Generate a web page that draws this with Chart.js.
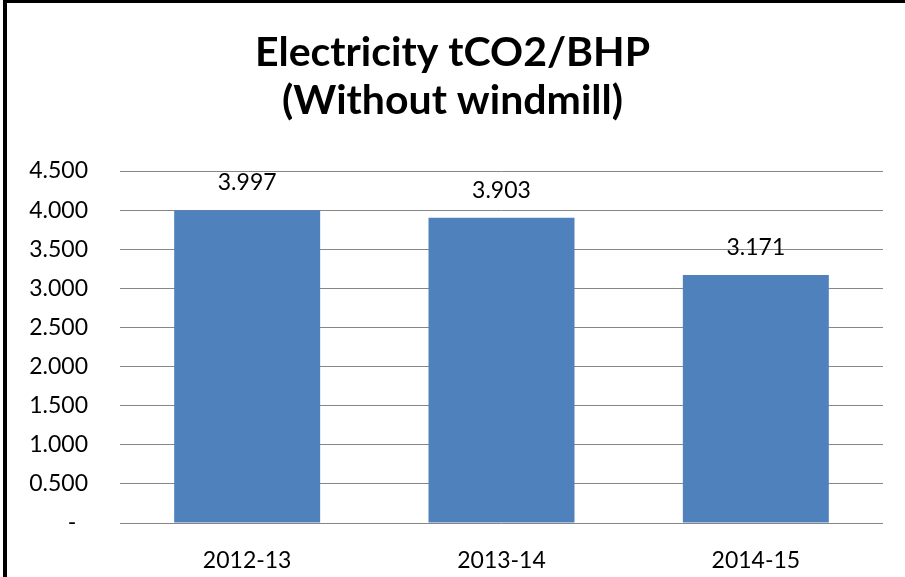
<!DOCTYPE html>
<html>
<head>
<meta charset="utf-8">
<script src="https://cdn.jsdelivr.net/npm/chart.js@4.4.0/dist/chart.umd.min.js"></script>
<style>
  html, body { margin: 0; padding: 0; background: #fff; }
  #wrap { position: relative; width: 905px; height: 577px; overflow: hidden; }
  #frame {
    position: absolute; left: 3px; top: 0; width: 920px; height: 600px;
    border-left: 4px solid #000; border-top: 3px solid #000;
    pointer-events: none;
  }
</style>
</head>
<body>
<div id="wrap">
  <canvas id="myChart" width="905" height="577"></canvas>
  <div id="frame"></div>
</div>
<script>
var titleLines = ["Electricity tCO2/BHP", "(Without windmill)"];
var xValues = ["2012-13", "2013-14", "2014-15"];
var yValues = [3.997, 3.903, 3.171];
var barColor = "#4F81BD";

var fontFamily = "Lato, 'Open Sans', sans-serif";

// values written above each bar
var valueLabels = {
    id: "valueLabels",
    afterDatasetsDraw: function (chart) {
        var ctx = chart.ctx;
        var meta = chart.getDatasetMeta(0);
        ctx.save();
        ctx.font = "23px " + fontFamily;
        ctx.fillStyle = "#000";
        ctx.textAlign = "center";
        ctx.textBaseline = "alphabetic";
        meta.data.forEach(function (bar, i) {
            ctx.fillText(yValues[i].toFixed(3), bar.x, bar.y - 20);
        });
        ctx.restore();
    }
};

new Chart("myChart", {
    type: "bar",
    data: {
        labels: xValues,
        datasets: [{
            backgroundColor: barColor,
            data: yValues,
            categoryPercentage: 1,
            barPercentage: 0.574
        }]
    },
    options: {
        responsive: false,
        animation: false,
        layout: { padding: 0 },
        plugins: {
            legend: { display: false },
            tooltip: { enabled: false },
            title: {
                display: true,
                text: titleLines,
                color: "#000",
                font: { family: fontFamily, size: 41, weight: "bold", lineHeight: 48 / 41 },
                padding: { top: 29, bottom: 46 }
            }
        },
        scales: {
            x: {
                grid: { display: false },
                border: { display: false },
                ticks: {
                    color: "#000",
                    padding: 16,
                    font: { family: fontFamily, size: 23 }
                },
                afterFit: function (s) { s.height = 54; }
            },
            y: {
                min: 0,
                max: 4.5,
                grid: { color: "#868686", lineWidth: 1, drawTicks: false },
                border: { display: false },
                ticks: {
                    stepSize: 0.5,
                    color: "#000",
                    padding: 32,
                    font: { family: fontFamily, size: 23 },
                    callback: function (v) { return v === 0 ? "-  " : v.toFixed(3); }
                },
                afterFit: function (s) { s.width = 120; }
            },
            yRight: {
                position: "right",
                grid: { display: false },
                border: { display: false },
                ticks: { display: false },
                afterFit: function (s) { s.width = 22; }
            }
        }
    },
    plugins: [valueLabels]
});
</script>
</body>
</html>
